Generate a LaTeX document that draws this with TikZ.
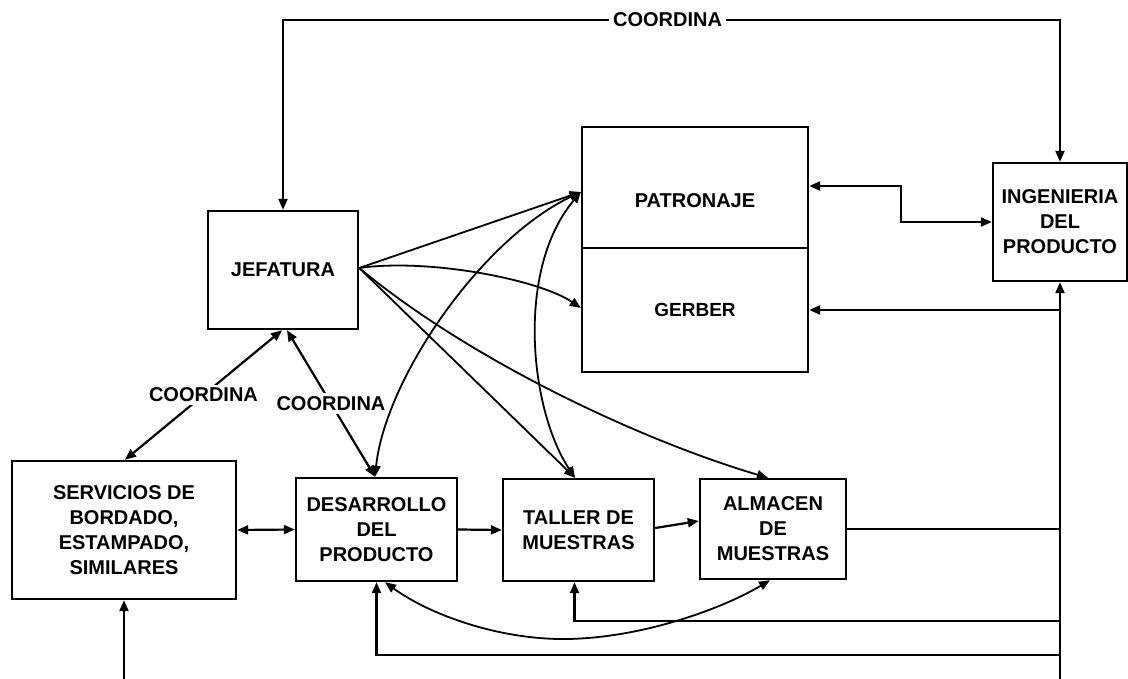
\documentclass[tikz,border=0pt]{standalone}
\usepackage{fontspec}
\setmainfont{Liberation Sans}
\usetikzlibrary{arrows.meta,calc}
\newcommand\boxfont{\fontsize{20}{25}\selectfont\bfseries}
\newcommand\smallboxfont{\fontsize{19}{24}\selectfont\bfseries}

\begin{document}
\begin{tikzpicture}[x=1pt,y=-1pt,
  box/.style={draw, line width=2.4pt, inner sep=0pt, align=center, font=\boxfont},
  plainbox/.style={draw, line width=2.4pt, inner sep=0pt},
  txt/.style={inner sep=0pt, align=center, font=\boxfont},
  lbl/.style={fill=white, font=\boxfont, inner xsep=4pt, inner ysep=3pt},
  conn/.style={line width=2.2pt},
  curve/.style={line width=1.8pt},
  onehead/.style={-{Triangle[length=11pt,width=9pt]}},
  twohead/.style={{Triangle[length=11pt,width=9pt]}-{Triangle[length=11pt,width=9pt]}}]

\useasboundingbox (0,0) rectangle (1128,679);

% boxes
\node[box, minimum width=150pt, minimum height=118pt] (jef) at (283,270) {JEFATURA};
\node[plainbox, minimum width=226pt, minimum height=121pt] (pat) at (695,187.5) {};
\node[plainbox, minimum width=226pt, minimum height=124pt] (ger) at (695,310) {};
\node[txt] (patlbl) at (695,201) {PATRONAJE};
\node[txt, font=\smallboxfont] (gerlbl) at (ger.center) {GERBER};
\node[box, minimum width=134pt, minimum height=118pt] (ing) at (1060,222) {INGENIERIA\\DEL\\PRODUCTO};
\node[box, minimum width=224pt, minimum height=138pt] (srv) at (124,530) {SERVICIOS DE\\BORDADO,\\ESTAMPADO,\\SIMILARES};
\node[box, minimum width=161pt, minimum height=103pt] (des) at (376.5,529.5) {DESARROLLO\\DEL\\PRODUCTO};
\node[box, minimum width=151pt, minimum height=102pt] (tal) at (578.5,530) {TALLER DE\\MUESTRAS};
\node[box, minimum width=146pt, minimum height=100pt] (alm) at (773,529) {ALMACEN\\DE\\MUESTRAS};

% free ends of the feedback bus and the service input
\coordinate (busbot) at (1060,679);
\coordinate (busT) at (1060,621);
\coordinate (busD) at (1060,655);
\coordinate (srvfeed) at (124,679);

% coordination loop over the top
\draw[conn, twohead] (jef.north) -- ++(0,-190) -| (ing.north)
  node[lbl, pos=0.25, xshift=-4pt] (topcoord) {COORDINA};

% patronaje <-> ingenieria
\draw[conn, twohead] ([yshift=1.5pt]pat.east) -- ++(92,0) |- (ing.west);

% feedback bus on the right
\draw[conn, onehead] (busbot) -- (ing.south);
\draw[conn, onehead] (ing.south |- ger.east) -- (ger.east);
\draw[conn] (alm.east) -- (alm.east -| busbot);
\draw[conn, onehead] (busT) -| ([xshift=-4pt]tal.south);
\draw[conn, onehead] (busD) -| (des.south);

% bottom row flow
\draw[conn, onehead] (srvfeed) -- (srv.south);
\draw[conn, twohead] (srv.east) -- (des.west);
\draw[conn, onehead] (des.east) -- (tal.west);
\draw[conn, onehead] ([yshift=2pt]tal.east) -- ([yshift=8pt]alm.west);

% coordination from jefatura
\draw[conn, twohead] ([xshift=-1pt]jef.south) -- ([xshift=1pt]srv.north)
  node[lbl, midway] (coordsrv) {COORDINA};
\draw[conn, twohead] ([xshift=4pt]jef.south) -- ([xshift=-1.5pt]des.north)
  node[lbl, midway] (coorddes) {COORDINA};

% jefatura fan-out
\coordinate (jout) at ([yshift=2pt]jef.east);
\draw[curve, onehead] (jout) -- ([yshift=-4.5pt]pat.west);
\draw[curve, onehead] (jout) .. controls (430,258) and (540,280) .. ([yshift=2pt]ger.west);
\draw[curve, onehead] (jout) -- ([xshift=-3.5pt]tal.north);
\draw[curve, onehead] (jout) .. controls (470,360) and (640,440) .. ([xshift=-5pt]alm.north);

% patronaje links to the sample area
\draw[curve, twohead] ([xshift=-1.5pt]des.north) .. controls (385,380) and (480,240) .. ([yshift=-4.5pt]pat.west);
\draw[curve, twohead] ([xshift=-3.5pt]tal.north) .. controls (530,410) and (515,270) .. ([yshift=-4.5pt]pat.west);

% desarrollo <-> almacen underneath
\draw[curve, twohead] ([xshift=8.5pt]des.south) .. controls (430,615) and (500,640) .. (567,639)
  .. controls (640,638) and (720,610) .. ([xshift=-3pt]alm.south);

\end{tikzpicture}
\end{document}
